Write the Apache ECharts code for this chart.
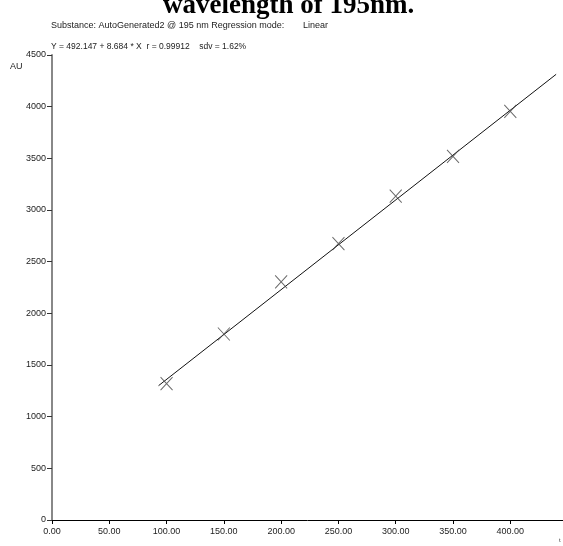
<!DOCTYPE html>
<html>
<head>
<meta charset="utf-8">
<script src="https://cdn.jsdelivr.net/npm/echarts@6/dist/echarts.min.js"></script>
<style>
  html, body { margin: 0; padding: 0; background: #fff; }
  #main { width: 563px; height: 546px; }
</style>
</head>
<body>
<div id="main"></div>
<script>
// calibration points (amount vs area)
var amounts = [100, 150, 200, 250, 300, 350, 400];
var areas = [1320, 1800, 2305, 2675, 3135, 3520, 3955];
// ends of the drawn regression line
var regX = [93, 440];
var regY = [1300, 4313];
var yTicks = [0, 500, 1000, 1500, 2000, 2500, 3000, 3500, 4000, 4500];

var chart = echarts.init(document.getElementById('main'));
var font = 'Liberation Sans, Arial, sans-serif';

var option = {
  animation: false,
  title: [{
    text: 'wavelength of 195nm.',
    left: 163,
    top: -7,
    padding: 0,
    textStyle: { fontFamily: 'Liberation Serif, Times New Roman, serif', fontWeight: 'bold', fontSize: 27, color: '#000' }
  }, {
    text: 'Substance: AutoGenerated2 @ 195 nm Regression mode:',
    left: 51, top: 21, padding: 0,
    textStyle: { fontFamily: font, fontWeight: 'normal', fontSize: 9, color: '#222' }
  }, {
    text: 'Linear',
    left: 303, top: 21, padding: 0,
    textStyle: { fontFamily: font, fontWeight: 'normal', fontSize: 9, color: '#222' }
  }, {
    text: 'Y = 492.147 + 8.684 * X  r = 0.99912    sdv = 1.62%',
    left: 51, top: 42, padding: 0,
    textStyle: { fontFamily: font, fontWeight: 'normal', fontSize: 8.5, color: '#222' }
  }, {
    text: 'AU',
    left: 10, top: 62, padding: 0,
    textStyle: { fontFamily: font, fontWeight: 'normal', fontSize: 9, color: '#222' }
  }, {
    text: 't',
    left: 559, top: 537, padding: 0,
    textStyle: { fontFamily: font, fontWeight: 'normal', fontSize: 6, color: '#444' }
  }],
  grid: { left: 52, right: 0, top: 55, bottom: 26 },
  xAxis: {
    type: 'value',
    min: 0,
    max: 446,
    interval: 50,
    splitLine: { show: false },
    axisLine: { lineStyle: { color: '#000', width: 1 } },
    axisTick: { length: 4, lineStyle: { color: '#000' } },
    axisLabel: {
      showMaxLabel: false,
      margin: 7,
      fontFamily: font, fontSize: 9, color: '#222',
      formatter: function (v) { return v.toFixed(2); }
    }
  },
  yAxis: {
    type: 'value',
    min: 0,
    max: 4500,
    interval: 500,
    splitLine: { show: false },
    axisLine: { show: true, lineStyle: { color: '#888', width: 2 } },
    axisTick: { length: 5, lineStyle: { color: '#333' } },
    axisLabel: {
      margin: 6,
      fontFamily: font, fontSize: 9, color: '#222',
      formatter: function (v) { return yTicks.indexOf(v) >= 0 ? String(v) : ''; }
    }
  },
  series: [{
    type: 'line',
    data: regX.map(function (x, i) { return [x, regY[i]]; }),
    symbol: 'none',
    lineStyle: { color: '#111', width: 1 },
    z: 2
  }, {
    type: 'scatter',
    data: amounts.map(function (x, i) { return [x, areas[i]]; }),
    symbol: 'path://M0,0L10,12M10,0L0,12',
    symbolSize: [12, 13],
    itemStyle: { color: 'rgba(0,0,0,0)', borderColor: '#444', borderWidth: 1 },
    z: 3
  }]
};
chart.setOption(option);
</script>
</body>
</html>
